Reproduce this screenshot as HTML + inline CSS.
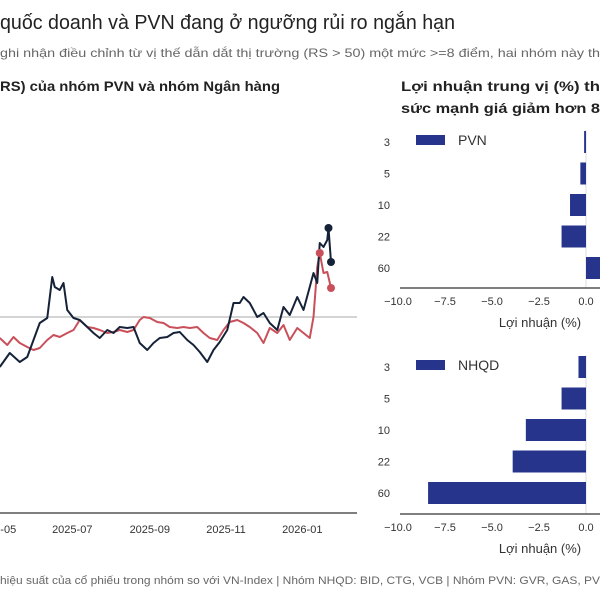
<!DOCTYPE html>
<html><head><meta charset="utf-8"><style>
html,body{margin:0;padding:0;background:#fff;}
svg{display:block;font-family:"Liberation Sans",Arial,sans-serif;}
</style></head><body>
<svg id="c" width="600" height="600" viewBox="0 0 600 600">
<text x="0" y="29" font-size="20" fill="#222" textLength="455" lengthAdjust="spacingAndGlyphs">quốc doanh và PVN đang ở ngưỡng rủi ro ngắn hạn</text>
<text x="0" y="57" font-size="12" fill="#666" textLength="600" lengthAdjust="spacingAndGlyphs">ghi nhận điều chỉnh từ vị thế dẫn dắt thị trường (RS &gt; 50) một mức &gt;=8 điểm, hai nhóm này th</text>
<text x="0" y="91" font-size="14" font-weight="bold" fill="#222" textLength="280" lengthAdjust="spacingAndGlyphs">RS) của nhóm PVN và nhóm Ngân hàng</text>
<text x="401" y="91" font-size="14" font-weight="bold" fill="#222" textLength="199" lengthAdjust="spacingAndGlyphs">Lợi nhuận trung vị (%) th</text>
<text x="401" y="113" font-size="14" font-weight="bold" fill="#222" textLength="199" lengthAdjust="spacingAndGlyphs">sức mạnh giá giảm hơn 8</text>
<text x="0" y="584" font-size="11" fill="#666" textLength="600" lengthAdjust="spacingAndGlyphs">hiệu suất của cổ phiếu trong nhóm so với VN-Index | Nhóm NHQD: BID, CTG, VCB | Nhóm PVN: GVR, GAS, PV</text>
<g id="line"></g>
<g id="bars"></g>
</svg>
<script>
const blackDays=[3,11,19,25,30,35,41,45,47,51,54,57,62,67,73,78,83,89,94,99,105,110,115,121,126,131,137,142,147,153,158,163,169,174,179,185,190,195,198,203,209,214,219,225,230,235,241,246,251,254,257,259,262,265,266,268];
const blackVals=[25,32,27.5,30,38.5,47,49.5,70,65,63.5,67,53.5,49.5,48.5,45,42,39.5,43.5,42,45,44.5,45,37,33.5,37,39.5,40,42,42.5,38.5,36,32.5,27.5,33.5,37.5,43.5,57,57,60,57,50,52,47,43.5,55,51,60,53.5,65,72,67,87,85,88.5,94.5,77.5];
const redDays=[3,9,14,19,25,30,35,41,46,51,57,62,67,73,78,83,89,94,99,105,110,115,118,123,129,134,139,145,150,155,161,166,171,177,182,187,193,198,203,209,214,219,225,230,235,241,246,251,254,257,259,262,265,268];
const redVals=[39.5,36,40,37,35,33.5,34.5,38.5,41,40,42,43.5,48.5,45,44.5,43.5,42,42.5,43.5,42.5,43.5,48.5,50,49.5,47.5,47,45,44.5,45,44.5,45,42,39.5,38.5,43.5,47.5,48.5,47,45,42,37,44.5,42,46,38.5,44.5,42,39.5,50,75,82,72,72.5,64.5];
const tickDays=[0,61,123,184,245];
const tickLabels=["2025-05","2025-07","2025-09","2025-11","2026-01"];
const horizons=["3","5","10","22","60"];
const pvnVals=[-0.1,-0.3,-0.85,-1.3,1.5];
const nhqdVals=[-0.4,-1.3,-3.2,-3.9,-8.4];
const barTicks=[-10,-7.5,-5,-2.5,0];
const barTickLabels=["−10.0","−7.5","−5.0","−2.5","0.0"];
const NS="http://www.w3.org/2000/svg";
function mk(p,t,a){const e=document.createElementNS(NS,t);for(const k in a)e.setAttribute(k,a[k]);p.appendChild(e);return e;}
const xL=d=>1.25*d-4, yL=v=>317-(v-50)*2;
const L=document.getElementById('line');
let e=mk(L,'line',{x1:0,x2:357,y1:yL(50),y2:yL(50),stroke:'#aaa','stroke-width':1});


e=mk(L,'line',{x1:0,x2:357,y1:513,y2:513,stroke:'#555','stroke-width':1.5});


tickDays.forEach((d,i)=>{const t=mk(L,'text',{x:xL(d),y:533,'font-size':11,fill:'#333','text-anchor':'middle'});t.textContent=tickLabels[i];

});
function series(days,vals,color,name){
 const p=mk(L,'polyline',{points:days.map((d,i)=>xL(d)+','+yL(vals[i])).join(' '),fill:'none',stroke:color,'stroke-width':2,'stroke-linejoin':'round'});
 
 
}
series(redDays,redVals,'#c9505a','bank-group');
series(blackDays,blackVals,'#152238','pvn-group');
[[redDays,redVals,'#c9505a',-4],[blackDays,blackVals,'#152238',-2]].forEach(([D,V,c,k],j)=>{
 [D.length+k,D.length-1].forEach(i=>{const m=mk(L,'circle',{cx:xL(D[i]),cy:yL(V[i]),r:4,fill:c});
 
 });
});
const B=document.getElementById('bars');
const xB=v=>586+v*18.8;
function panel(vals,top,axisY,label){
 e=mk(B,'line',{x1:xB(0),x2:xB(0),y1:top-12,y2:axisY,stroke:'#ddd','stroke-width':1});
 
 
 vals.forEach((v,i)=>{const y=top+i*31.5;
  const r=mk(B,'rect',{x:Math.min(xB(0),xB(v)),y:y-11,width:Math.abs(xB(v)-xB(0)),height:22,fill:'#27348b'});
  
  
  const t=mk(B,'text',{x:390,y:y+4,'font-size':11,fill:'#333','text-anchor':'end'});t.textContent=horizons[i];
  
  });
 e=mk(B,'line',{x1:400,x2:600,y1:axisY,y2:axisY,stroke:'#555','stroke-width':1.5});
 
 
 barTicks.forEach((v,i)=>{const t=mk(B,'text',{x:xB(v),y:axisY+17,'font-size':11,fill:'#333','text-anchor':'middle'});t.textContent=barTickLabels[i];
  
  });
 const xt=mk(B,'text',{x:540,y:axisY+39,'font-size':13,fill:'#333','text-anchor':'middle'});xt.textContent='Lợi nhuận (%)';
 
 
 const sw=mk(B,'rect',{x:416,y:top-7,width:29,height:10,fill:'#27348b'});
 
 
 const lt=mk(B,'text',{x:458,y:top+3,'font-size':14,fill:'#333'});lt.textContent=label;
 
 
}
panel(pvnVals,142,288,'PVN');
panel(nhqdVals,367,514,'NHQD');
</script>
</body></html>
